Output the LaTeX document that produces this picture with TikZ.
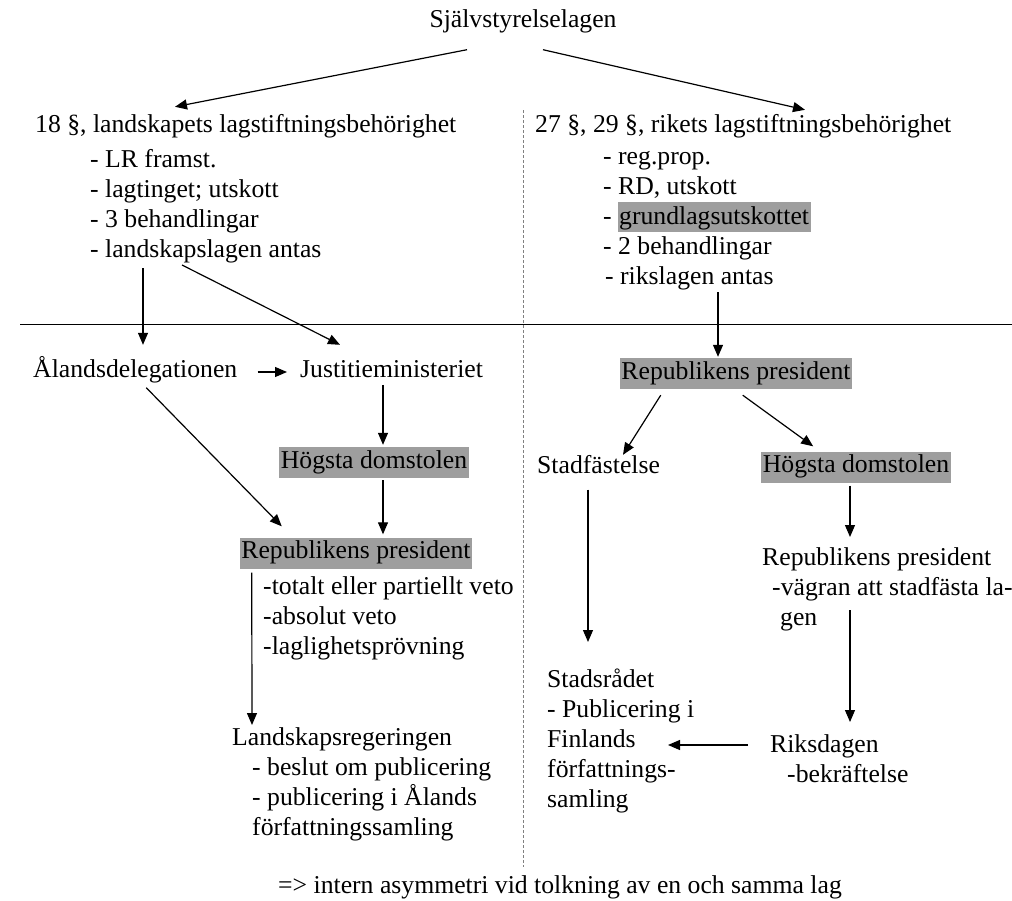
\documentclass[tikz,border=0pt]{standalone}
\usepackage{fontspec}
\setmainfont{Liberation Serif}
\usetikzlibrary{arrows.meta,calc}
\definecolor{hl}{gray}{0.62}
\begin{document}
\begin{tikzpicture}[x=1pt,y=-1pt,
  every node/.style={font=\fontsize{25.7}{30}\selectfont, inner sep=0pt, text=black},
  one/.style={text height=17pt,text depth=6pt},
  multi/.style={align=left,anchor=north west},
  grey/.style={one,fill=hl,inner xsep=1.5pt,inner ysep=4pt},
  arr/.style={line width=1.2pt,-{Triangle[length=12pt,width=10pt]}},
  plain/.style={line width=0.9pt},
  divider/.style={line width=0.8pt,gray,dash pattern=on 3pt off 2pt}]
\useasboundingbox (0,0) rectangle (1012,900);

% divider lines
\coordinate (hl1) at (20,324);
\coordinate (hl2) at (1012,324);
\coordinate (dv1) at (523,110);
\coordinate (dv2) at (523,867);
\draw[plain] (hl1) -- (hl2);
\draw[divider] (dv1) -- (dv2);

% top
\node[one,anchor=center] (sj) at (523,22) {Självstyrelselagen};
\node[one,anchor=west] (t18) at (35,127) {18 §, landskapets lagstiftningsbehörighet};
\node[one,anchor=west] (t27) at (535,127) {27 §, 29 §, rikets lagstiftningsbehörighet};
\node[multi] (lst1) at (90,146) {\strut- LR framst.\\- lagtinget; utskott\\- 3 behandlingar\\- landskapslagen antas};
\node[multi] (lst2) at (603,143) {\strut- reg.prop.\\- RD, utskott\\- {\setlength{\fboxsep}{0pt}\colorbox{hl}{\rule[-8pt]{0pt}{30pt}\hspace{1pt}grundlagsutskottet\hspace{2pt}}}\\- 2 behandlingar\\\hspace*{2pt}- rikslagen antas};

% left column
\node[one,anchor=west] (al) at (33,372) {Ålandsdelegationen};
\node[one,anchor=west] (ju) at (300,372) {Justitieministeriet};
\node[grey] (hd1) at (374,462.5) {Högsta domstolen};
\node[grey] (rp1) at (356,553) {Republikens president};
\node[multi] (rp1l) at (263,573) {\strut-totalt eller partiellt veto\\-absolut veto\\-laglighetsprövning};
\node[multi] (lr) at (232,724) {\strut Landskapsregeringen\\\hspace*{20pt}- beslut om publicering\\\hspace*{20pt}- publicering i Ålands\\\hspace*{20pt}författningssamling};

% right column
\node[grey] (rp2) at (736,373.5) {Republikens president};
\node[one,anchor=west] (sf) at (537,468) {Stadfästelse};
\node[grey] (hd2) at (856,467) {Högsta domstolen};
\node[multi] (rp3) at (762,544) {\strut Republikens president\\\hspace*{10pt}-vägran att stadfästa la-\\\hspace*{18pt}gen};
\node[multi] (sr) at (547,666) {\strut Stadsrådet\\- Publicering i\\Finlands\\författnings-\\samling};
\node[multi] (rd) at (770,731) {\strut Riksdagen\\\hspace*{17pt}-bekräftelse};

% bottom
\node[one,anchor=center] (bt) at (560,888) {=> intern asymmetri vid tolkning av en och samma lag};

% connectors top
\draw[arr] ($(sj.south)+(-56,16)$) -- ($(t18.north west)+(140,-8.5)$);
\draw[arr] ($(sj.south)+(20,16)$) -- ($(t27.north west)+(270,-5.5)$);

% left connectors
\draw[arr] ($(lst1.north west)+(53,122)$) -- ($(al.north west)+(110,-15.5)$);
\draw[arr] ($(lst1.north west)+(92,119)$) -- ($(ju.north west)+(40,-15.5)$);
\draw[arr] ([xshift=20pt]al.east) -- ([xshift=-13pt]ju.west);
\draw[arr] ($(hd1.north)+(9,-62)$) -- ($(hd1.north)+(9,-2)$);
\draw[arr] ([xshift=9pt,yshift=-2pt]hd1.south) -- ($(rp1.north)+(27,-3)$);
\draw[arr] ($(al.south)+(11,4)$) -- ($(rp1.north west)+(42,-11)$);
\draw[arr] ($(rp1.south west)+(12,4)$) -- ($(lr.north west)+(20,1)$);

% right connectors
\draw[arr] ($(lst2.north west)+(115,149)$) -- ($(rp2.north)+(-18,-1)$);
\draw[arr] ($(rp2.south west)+(41,6)$) -- ($(sf.north west)+(86,-1.5)$);
\draw[arr] ($(rp2.south west)+(123,6)$) -- ($(hd2.north west)+(52,-5)$);
\draw[arr] ($(hd2.south)+(-6,3)$) -- ($(rp3.north west)+(88,-7)$);
\draw[arr] ($(sf.south west)+(51,10)$) -- ($(sr.north west)+(41,-24)$);
\draw[arr] ($(rp3.north west)+(88,66)$) -- ($(rd.north west)+(80,-9)$);
\draw[arr] ($(rd.north west)+(-22,14)$) -- ($(sr.north west)+(121,79)$);
\end{tikzpicture}
\end{document}
